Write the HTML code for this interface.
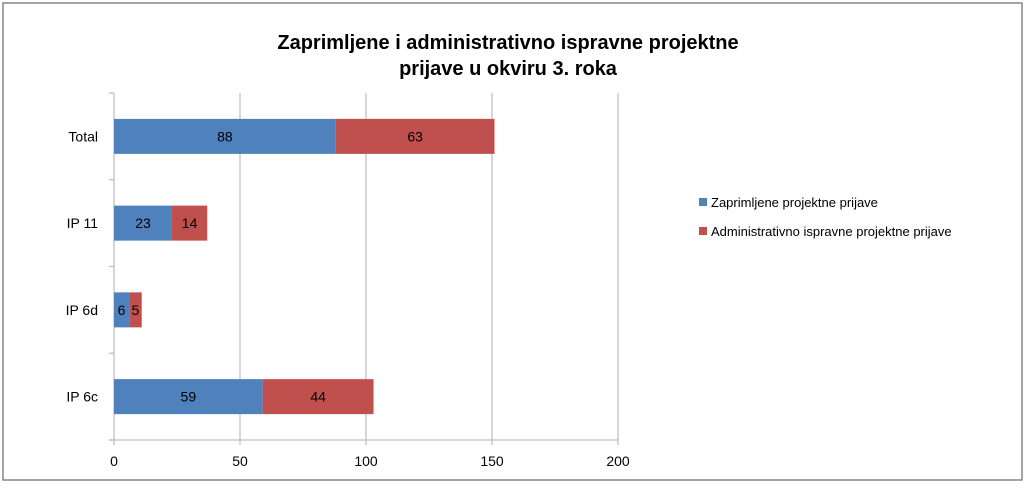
<!DOCTYPE html>
<html><head><meta charset="utf-8"><style>
body{margin:0;width:1029px;height:489px;background:#fff;overflow:hidden}
svg{font-family:"Liberation Sans",Arial,sans-serif}
</style></head><body>
<svg width="1029" height="489">
<rect x="3" y="3" width="1019" height="477" fill="#fff" stroke="#868686" stroke-width="1.5"/>
<text x="508" y="49" text-anchor="middle" font-size="20" font-weight="bold" fill="#000">Zaprimljene i administrativno ispravne projektne</text>
<text x="508" y="75" text-anchor="middle" font-size="20" font-weight="bold" fill="#000">prijave u okviru 3. roka</text>
<g id="plot"></g>
<g>
<rect x="699" y="198" width="8" height="8" fill="#4f81bd"/>
<text x="711" y="207" font-size="13">Zaprimljene projektne prijave</text>
<rect x="699" y="227" width="8" height="8" fill="#c0504d"/>
<text x="711" y="236" font-size="13">Administrativno ispravne projektne prijave</text>
</g>
</svg>
<script>
const categories=["Total","IP 11","IP 6d","IP 6c"];
const received=[88,23,6,59];
const valid=[63,14,5,44];
const ticks=[0,50,100,150,200];
const X0=114,X1=618,Y0=93,Y1=440,MAX=200;
const xs=v=>X0+(X1-X0)*v/MAX;
const band=(Y1-Y0)/categories.length;
const g=document.getElementById('plot');
const NS='http://www.w3.org/2000/svg';
function mk(t,a){const e=document.createElementNS(NS,t);for(const k in a)e.setAttribute(k,a[k]);g.appendChild(e);return e;}
ticks.forEach(t=>{
 const l=mk('line',{x1:xs(t),x2:xs(t),y1:Y0,y2:Y1+5,stroke:'#bfbfbf','stroke-width':1.3});
 
 
 const tx=mk('text',{x:xs(t),y:Y1+26,'text-anchor':'middle','font-size':14});
 tx.textContent=t;
 
 
});
const ax=mk('line',{x1:X0-5,x2:X1,y1:Y1,y2:Y1,stroke:'#bfbfbf','stroke-width':1.3});


for(let i=0;i<=categories.length;i++){
 const t=mk('line',{x1:X0-5,x2:X0,y1:Y0+band*i,y2:Y0+band*i,stroke:'#bfbfbf','stroke-width':1.3});
 
 
}
categories.forEach((c,i)=>{
 const cy=Y0+band*(i+0.5);
 const h=35;
 const lab=mk('text',{x:98,y:cy+5,'text-anchor':'end','font-size':14});
 lab.textContent=c;
 
 
 const b1=mk('rect',{x:xs(0),y:cy-h/2,width:xs(received[i])-xs(0),height:h,fill:'#4f81bd'});
 
 
 const b2=mk('rect',{x:xs(received[i]),y:cy-h/2,width:xs(received[i]+valid[i])-xs(received[i]),height:h,fill:'#c0504d'});
 
 
 const t1=mk('text',{x:(xs(0)+xs(received[i]))/2,y:cy+5,'text-anchor':'middle','font-size':14});
 t1.textContent=received[i];
 
 
 const t2=mk('text',{x:(xs(received[i])+xs(received[i]+valid[i]))/2,y:cy+5,'text-anchor':'middle','font-size':14});
 t2.textContent=valid[i];
 
 
});
</script>
</body></html>
